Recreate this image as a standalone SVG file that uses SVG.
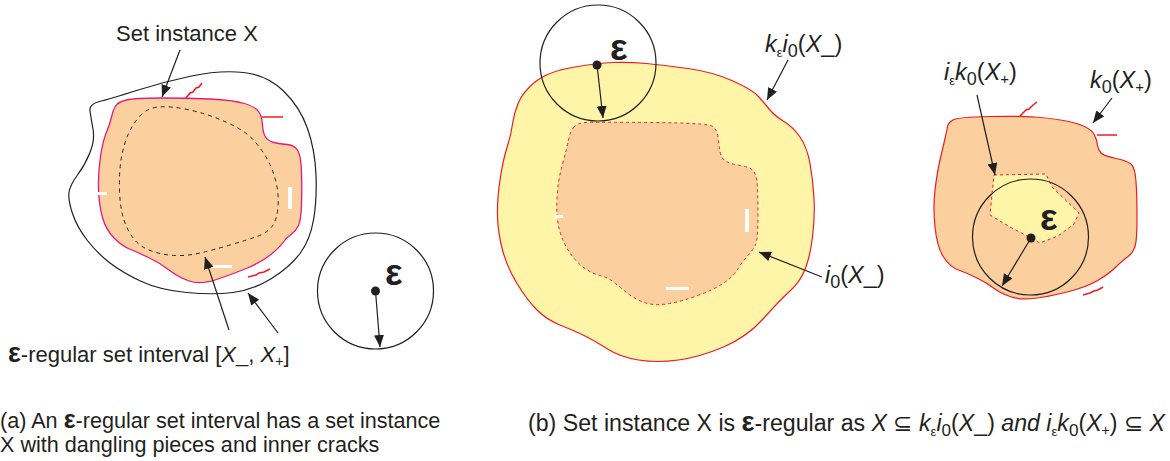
<svg xmlns="http://www.w3.org/2000/svg" width="1170" height="461" viewBox="0 0 1170 461">
<style>
text{font-family:"Liberation Sans",Arial,sans-serif;font-size:22px;fill:#231f20}
.it{font-style:italic}
.eps{font-weight:bold}
.big{font-size:37px;font-weight:bold}
.lbl{font-size:23.5px}
.cap{font-size:21.6px}
.conn{stroke:#231f20;stroke-width:1.2;fill:none}
.red{stroke:#ed1c24;stroke-width:1.5;fill:none}
.crack{fill:#ffffff}
.ring{fill:none;stroke:#231f20;stroke-width:1.2}
</style>
<defs>
<marker id="ah" viewBox="0 0 12 10" refX="12" refY="5" markerWidth="12" markerHeight="10" orient="auto" markerUnits="userSpaceOnUse"><path d="M0,0 L12,5 L0,10 z" fill="#231f20"/></marker>
</defs>
<rect width="1170" height="461" fill="#ffffff"/>

<!-- Panel (a) -->
<g id="outer-a">
<path d="M90,111 Q89,104 99.5,101.5 Q110,99 136.5,90.5 Q163,82 191.5,76 Q220,70 243.5,72.5 Q267,75 283.5,91 Q300,107 307.5,128.5 Q315,150 316,175 Q317,200 313.5,220 Q310,240 300,253.5 Q290,267 271.5,278.5 Q253,290 233,292.5 Q213,295 186.5,292.5 Q160,290 141.5,281.5 Q123,273 110,263 Q97,253 87,240 Q77,227 72.5,213.5 Q68,200 69,192.5 Q70,185 77.5,175 Q85,165 90,152.5 Q95,140 93,129 Q91,118 90,111 Z" fill="none" stroke="#231f20" stroke-width="1.2"/>
</g>
<g id="set-a">
<path d="M111.5,117 Q113,110 115.5,106 Q118,102 126.5,100 Q135,98 161,98 Q187,98 210,99 Q233,100 244.5,103.5 Q256,107 259,112 Q262,117 262.5,125 Q263,133 265.5,137 Q268,141 274,142.5 Q280,144 287,144.5 Q294,145 297.5,150 Q301,155 301.5,172.5 Q302,190 301.5,205 Q301,220 298.5,225.5 Q296,231 291,234.5 Q286,238 283.5,242 Q281,246 271.5,254 Q262,262 247.5,268 Q233,274 216.5,279.5 Q200,285 189,281 Q178,277 169,270 Q160,263 148.5,257.5 Q137,252 129.5,249 Q122,246 114,238 Q106,230 102.5,217.5 Q99,205 98.5,189 Q98,173 100.5,156.5 Q103,140 106.5,132 Q110,124 111.5,117 Z" fill="#fcd09e" stroke="#e8187c" stroke-width="1.3"/>
<path d="M139.5,116.5 Q147,108 158.5,107 Q170,106 185,109 Q200,112 213.5,117 Q227,122 237,127.5 Q247,133 253.5,140 Q260,147 266,157 Q272,167 275.5,180 Q279,193 278,206.5 Q277,220 272,226.5 Q267,233 257,236.5 Q247,240 230,245 Q213,250 200,253 Q187,256 175,255.5 Q163,255 151.5,251 Q140,247 133.5,238.5 Q127,230 123.5,218.5 Q120,207 119.5,190 Q119,173 121,160 Q123,147 127.5,136 Q132,125 139.5,116.5 Z" fill="none" stroke="#231f20" stroke-width="1" stroke-dasharray="4,4"/>
<path class="red" d="M186,98 L190,93 L193,92 L196,88 L199,87 L202,83"/>
<path class="red" d="M262,117 L283,117"/>
<path class="red" d="M248,277 L256,275 L259,273 L264,272 L270,269"/>
<rect class="crack" x="98" y="192" width="9" height="3"/>
<rect class="crack" x="288" y="187" width="4" height="22"/>
<rect class="crack" x="213" y="265" width="19" height="3"/>
</g>
<g id="eps-a">
<circle class="ring" cx="375.5" cy="291" r="58"/>
<circle cx="375.5" cy="291" r="4.5" fill="#231f20"/>
<text class="big" x="385" y="285">ε</text>
</g>
<g id="labels-a">
<text x="116" y="41">Set instance X</text>
<text x="8" y="362"><tspan class="eps" font-size="27">ε</tspan>-regular set interval [<tspan class="it">X</tspan>_, <tspan class="it">X</tspan><tspan font-size="14" dy="4">+</tspan><tspan dy="-4">]</tspan></text>
<text class="cap" x="0" y="428">(a) An <tspan class="eps" font-size="25">ε</tspan>-regular set interval has a set instance</text>
<text class="cap" x="0" y="452">X with dangling pieces and inner cracks</text>
</g>

<!-- Panel (b) left -->
<g id="dilated-b">
<path d="M613.5,62.5 Q597,63 572,67.5 Q547,72 535,82 Q523,92 518.5,102.5 Q514,113 512.5,124 Q511,135 507,147.5 Q503,160 500,180 Q497,200 497.5,216.5 Q498,233 502.5,250 Q507,267 517,283.5 Q527,300 537,310 Q547,320 561,325.5 Q575,331 585,336 Q595,341 607.5,349 Q620,357 638.5,360 Q657,363 678.5,360 Q700,357 723.5,347 Q747,337 763.5,318.5 Q780,300 790,291 Q800,282 805,269.5 Q810,257 812.5,237 Q815,217 814,198.5 Q813,180 810,163.5 Q807,147 800,137 Q793,127 784,121.5 Q775,116 770,110 Q765,104 759,97 Q753,90 733,81 Q713,72 688,68.5 Q663,65 646.5,63.5 Q630,62 613.5,62.5 Z" fill="#fff5a8" stroke="#ed1c24" stroke-width="1.2"/>
</g>
<g id="interior-b">
<path d="M573.5,127.5 Q577,123 586,122.5 Q595,122 651,122.5 Q707,123 712,126 Q717,129 718,137 Q719,145 720,151.5 Q721,158 725.5,161 Q730,164 740,165.5 Q750,167 753,170.5 Q756,174 757,182 Q758,190 758,215 Q758,240 755.5,245 Q753,250 747.5,256 Q742,262 737.5,269.5 Q733,277 723,283.5 Q713,290 696.5,296 Q680,302 666.5,304 Q653,306 643,302 Q633,298 626.5,292.5 Q620,287 613.5,282 Q607,277 600,275.5 Q593,274 585,268.5 Q577,263 570,253 Q563,243 559.5,230 Q556,217 557,198.5 Q558,180 562.5,164 Q567,148 568.5,140 Q570,132 573.5,127.5 Z" fill="#fcd09e" stroke="#ed1c24" stroke-width="1" stroke-dasharray="3,3"/>
<rect class="crack" x="555" y="215" width="8" height="3"/>
<rect class="crack" x="745" y="209" width="4" height="23"/>
<rect class="crack" x="666" y="287" width="23" height="3"/>
</g>
<g id="eps-b1">
<circle class="ring" cx="598" cy="63" r="58"/>
<circle cx="597" cy="65" r="4.5" fill="#231f20"/>
<text class="big" x="610" y="60">ε</text>
</g>
<g id="labels-b1">
<text class="lbl" x="765" y="52"><tspan class="it">k</tspan><tspan font-size="13" dy="5">ε</tspan><tspan class="it" dy="-5">i</tspan><tspan font-size="18" dy="5">0</tspan><tspan dy="-5">(</tspan><tspan class="it">X</tspan>_)</text>
<text class="lbl" x="825" y="283"><tspan class="it">i</tspan><tspan font-size="18" dy="5">0</tspan><tspan dy="-5">(</tspan><tspan class="it">X</tspan>_)</text>
</g>

<!-- Panel (b) right -->
<g id="closure-b">
<path d="M947.5,126.5 Q948,123 953,120 Q958,117 989,116.5 Q1020,116 1035,117 Q1050,118 1063.5,120.5 Q1077,123 1084.5,126.5 Q1092,130 1094.5,135 Q1097,140 1097.5,145 Q1098,150 1101,153 Q1104,156 1116,158.5 Q1128,161 1131.5,164.5 Q1135,168 1136,181.5 Q1137,195 1137,217.5 Q1137,240 1135,246.5 Q1133,253 1128,256.5 Q1123,260 1116.5,266.5 Q1110,273 1098.5,280 Q1087,287 1067,292 Q1047,297 1033.5,298.5 Q1020,300 1010,296.5 Q1000,293 993.5,288 Q987,283 977,278 Q967,273 958.5,270 Q950,267 943.5,257 Q937,247 935,227 Q933,207 935,190 Q937,173 940,160 Q943,147 945,138.5 Q947,130 947.5,126.5 Z" fill="#fcd09e" stroke="#ed1c24" stroke-width="1.2"/>
<path class="red" d="M1020,116 L1026,110 L1029,109 L1033,105 L1037,102"/>
<path class="red" d="M1097,135 L1117,135"/>
<path class="red" d="M1083,295 L1090,293 L1094,291 L1098,290 L1103,287"/>
<polygon points="994,175 1046,174 1052,187 1079,213 1074,224 1058,236 1040,243 1031,238 1010,227 990,215" fill="#fff5a8" stroke="#ed1c24" stroke-width="1" stroke-dasharray="3,3"/>
</g>
<g id="eps-b2">
<circle class="ring" cx="1030.5" cy="237" r="58"/>
<circle cx="1031" cy="238" r="4.5" fill="#231f20"/>
<text class="big" x="1040" y="230">ε</text>
</g>
<g id="labels-b2">
<text class="lbl" x="944" y="80"><tspan class="it">i</tspan><tspan font-size="13" dy="5">ε</tspan><tspan class="it" dy="-5">k</tspan><tspan font-size="18" dy="5">0</tspan><tspan dy="-5">(</tspan><tspan class="it">X</tspan><tspan font-size="15" dy="4">+</tspan><tspan dy="-4">)</tspan></text>
<text class="lbl" x="1090" y="88"><tspan class="it">k</tspan><tspan font-size="18" dy="5">0</tspan><tspan dy="-5">(</tspan><tspan class="it">X</tspan><tspan font-size="15" dy="4">+</tspan><tspan dy="-4">)</tspan></text>
<text x="528" y="431" style="font-size:23px" textLength="637" lengthAdjust="spacingAndGlyphs">(b) Set instance X is <tspan class="eps" font-size="27">ε</tspan>-regular as <tspan class="it">X</tspan> ⊆ <tspan class="it">k</tspan><tspan font-size="13" dy="5">ε</tspan><tspan class="it" dy="-5">i</tspan><tspan font-size="17" dy="5">0</tspan><tspan dy="-5">(</tspan><tspan class="it">X</tspan>_) <tspan class="it">and i</tspan><tspan font-size="13" dy="5">ε</tspan><tspan class="it" dy="-5">k</tspan><tspan font-size="17" dy="5">0</tspan><tspan dy="-5">(</tspan><tspan class="it">X</tspan><tspan font-size="14" dy="4">+</tspan><tspan dy="-4">) ⊆ </tspan><tspan class="it">X</tspan></text>
</g>

<g id="connectors">
<line class="conn" x1="180" y1="50" x2="162" y2="97" marker-end="url(#ah)"/>
<line class="conn" x1="229" y1="330" x2="205" y2="257" marker-end="url(#ah)"/>
<line class="conn" x1="278" y1="333" x2="248" y2="293" marker-end="url(#ah)"/>
<line class="conn" x1="375.5" y1="291" x2="380" y2="347" marker-end="url(#ah)"/>
<line class="conn" x1="788" y1="60" x2="767" y2="100" marker-end="url(#ah)"/>
<line class="conn" x1="822" y1="277" x2="759" y2="252" marker-end="url(#ah)"/>
<line class="conn" x1="597" y1="65" x2="603" y2="118" marker-end="url(#ah)"/>
<line class="conn" x1="977" y1="95" x2="995" y2="175" marker-end="url(#ah)"/>
<line class="conn" x1="1112" y1="98" x2="1093" y2="123" marker-end="url(#ah)"/>
<line class="conn" x1="1031" y1="238" x2="1002" y2="286" marker-end="url(#ah)"/>
</g>
</svg>
